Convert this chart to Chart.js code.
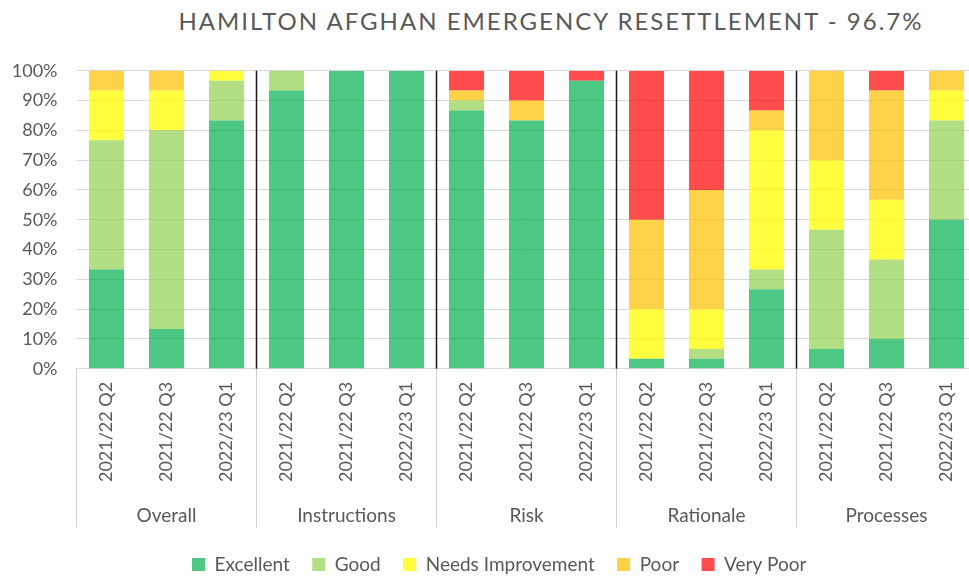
<!DOCTYPE html>
<html><head><meta charset="utf-8">
<script src="https://cdn.jsdelivr.net/npm/chart.js@4/dist/chart.umd.min.js"></script>
<style>
html,body{margin:0;padding:0;background:#fff;overflow:hidden;width:969px;height:578px;}
#wrap{position:relative;width:969px;height:578px;overflow:hidden;}
#title{position:absolute;left:150px;width:802px;top:9px;line-height:24px;text-align:center;font-family:Lato,sans-serif;font-size:24px;color:#595959;letter-spacing:2px;white-space:nowrap;}
#holder{position:absolute;left:0;top:0;width:1003px;height:584px;}
</style></head><body>
<div id="wrap">
<div id="title">HAMILTON AFGHAN EMERGENCY RESETTLEMENT - 96.7%</div>
<div id="holder"><canvas id="cv" width="1003" height="584"></canvas></div>
</div>
<script>
const groups = ['Overall','Instructions','Risk','Rationale','Processes'];
const quarters = ['2021/22 Q2','2021/22 Q3','2022/23 Q1'];
const yTicks = [0,10,20,30,40,50,60,70,80,90,100];
const excellent        = [33.33,13.33,83.33, 93.33,100,100, 86.67,83.33,96.67,  3.33, 3.33,26.67,  6.67,10.00,50.00];
const good             = [43.33,66.67,13.33,  6.67,  0,  0,  3.33, 0.00, 0.00,  0.00, 3.33, 6.67, 40.00,26.67,33.33];
const needsImprovement = [16.67,13.33, 3.34,  0.00,  0,  0,  0.00, 0.00, 0.00, 16.67,13.34,46.66, 23.33,20.00,10.00];
const poor             = [ 6.67, 6.67, 0.00,  0.00,  0,  0,  3.33, 6.67, 0.00, 30.00,40.00, 6.67, 30.00,36.66, 6.67];
const veryPoor         = [ 0.00, 0.00, 0.00,  0.00,  0,  0,  6.67,10.00, 3.33, 50.00,40.00,13.33,  0.00, 6.67, 0.00];

const labels = [];
groups.forEach(() => quarters.forEach(q => labels.push(q)));

const TXT = '#595959';
const FONT = 'Lato, sans-serif';

const groupLines = {
  id: 'groupLines',
  afterLayout(chart) {
    const l = chart.legend;
    if (l) { l.left += 11; l.right += 11; }
  },
  beforeDatasetsDraw(chart) {
    const {ctx, chartArea: a, scales: {x}} = chart;
    const band = x.getPixelForValue(1) - x.getPixelForValue(0);
    ctx.save();
    ctx.strokeStyle = '#1a1a1a';
    ctx.lineWidth = 1.5;
    for (let g = 1; g < groups.length; g++) {
      const px = x.getPixelForValue(g * quarters.length - 1) + band / 2;
      ctx.beginPath(); ctx.moveTo(px, a.top); ctx.lineTo(px, a.bottom); ctx.stroke();
    }
    ctx.restore();
  },
  afterDraw(chart) {
    const {ctx, chartArea: a, scales: {x, x2}} = chart;
    const band = x.getPixelForValue(1) - x.getPixelForValue(0);
    ctx.save();
    ctx.strokeStyle = '#d0d0d0';
    ctx.lineWidth = 1;
    for (let g = 0; g <= groups.length; g++) {
      const px = g === 0 ? x.getPixelForValue(0) - band / 2
                         : x.getPixelForValue(g * quarters.length - 1) + band / 2;
      ctx.beginPath(); ctx.moveTo(px, a.bottom); ctx.lineTo(px, x2.bottom - 5); ctx.stroke();
    }
    ctx.restore();
  }
};

const mk = (label, data, color) => ({label, data, backgroundColor: color, borderWidth: 0,
  barPercentage: 0.585, categoryPercentage: 1.0});

new Chart(document.getElementById('cv'), {
  type: 'bar',
  data: {
    labels,
    datasets: [
      mk('Excellent', excellent, 'rgba(0,176,80,0.7)'),
      mk('Good', good, 'rgba(146,208,80,0.7)'),
      mk('Needs Improvement', needsImprovement, 'rgba(255,255,0,0.75)'),
      mk('Poor', poor, 'rgba(255,192,0,0.72)'),
      mk('Very Poor', veryPoor, 'rgba(255,0,0,0.7)')
    ]
  },
  options: {
    responsive: false,
    animation: false,
    devicePixelRatio: 1,
    layout: {padding: {top: 70.7, right: 26.5, bottom: 0, left: 0}},
    plugins: {
      title: {display: false},
      tooltip: {enabled: false},
      legend: {
        position: 'bottom',
        labels: {boxWidth: 13, boxHeight: 13, padding: 22.5, color: TXT,
                 font: {family: FONT, size: 19}}
      }
    },
    scales: {
      x: {
        type: 'category', stacked: true, position: 'bottom',
        grid: {display: false, drawTicks: false},
        border: {display: true, color: '#d9d9d9'},
        ticks: {minRotation: 90, maxRotation: 90, autoSkip: false, padding: 13,
                color: TXT, font: {family: FONT, size: 18}},
        afterFit(s) { s.height = 125; }
      },
      x2: {
        type: 'category', labels: groups, position: 'bottom', offset: true,
        grid: {display: false, drawTicks: false},
        border: {display: false},
        ticks: {padding: 11, color: TXT, font: {family: FONT, size: 19}},
        afterFit(s) { s.height = 38.7; }
      },
      y: {
        stacked: true, min: 0, max: 100,
        afterBuildTicks(s) { s.ticks = yTicks.map(v => ({value: v})); },
        ticks: {callback: v => v + '%', padding: 19, color: TXT,
                font: {family: FONT, size: 18}},
        grid: {color: '#d9d9d9', drawTicks: false},
        border: {display: false},
        afterFit(s) { s.width = 76.5; }
      }
    }
  },
  plugins: [groupLines]
});
</script>
</body></html>
